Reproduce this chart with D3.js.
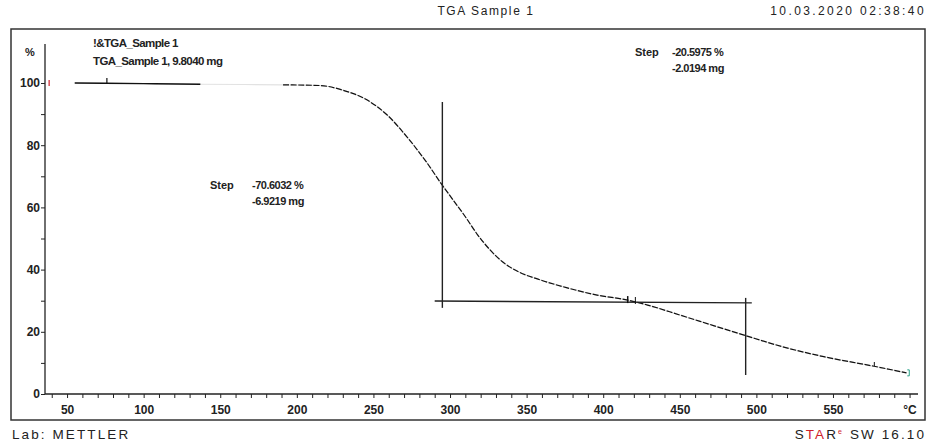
<!DOCTYPE html>
<html>
<head>
<meta charset="utf-8">
<script src="https://cdn.jsdelivr.net/npm/d3@7"></script>
<style>
  html, body { margin: 0; padding: 0; background: #fff; }
  svg { display: block; }
  text { font-family: "Liberation Sans", Arial, sans-serif; }
</style>
</head>
<body>
<svg id="chart" width="928" height="443"></svg>
<script>
// ---- data ----
const temperatureC = [55, 100, 137, 191, 215, 230, 246, 259, 272, 285, 294, 302, 310, 318, 326, 334, 345, 357, 376, 396, 416, 429, 450, 472, 494, 517, 544, 576, 598];
const massPercent  = [100, 99.8, 99.6, 99.4, 99.2, 97.7, 94.5, 89.7, 82.6, 74.3, 67.8, 62.4, 57.0, 51.2, 46.4, 42.6, 39.2, 37.0, 34.2, 31.8, 30.2, 28.6, 25.4, 22.0, 18.6, 15.2, 12.0, 9.0, 6.8];
const xTickLabels = [50, 100, 150, 200, 250, 300, 350, 400, 450, 500, 550];
const yTickLabels = [0, 20, 40, 60, 80, 100];
// step evaluation construction (temperature, percent)
const step1Vertical   = [[295, 93.9], [295, 27.7]];
const stepBaseline    = [[290, 29.9], [497, 29.3]];
const step2Vertical   = [[493, 30.9], [493, 6.1]];
const step1Text = ["Step", "-70.6032 %", "-6.9219 mg"];
const step2Text = ["Step", "-20.5975 %", "-2.0194 mg"];
const curveName = ["!&TGA_Sample 1", "TGA_Sample 1, 9.8040 mg"];
const faintRange = [137, 191]; // segment drawn very faintly in the reference

const svg = d3.select("#chart");
const x = d3.scaleLinear().domain([35.6, 605.5]).range([45, 918]);
const y = d3.scaleLinear().domain([0, 100]).range([394, 83]);

// frame
svg.append("rect").attr("x", 11).attr("y", 29).attr("width", 914).attr("height", 391)
  .attr("fill", "none").attr("stroke", "#333").attr("stroke-width", 1.5);

// header
svg.append("text").attr("x", 486).attr("y", 15).attr("text-anchor", "middle")
  .attr("font-size", 12).attr("letter-spacing", 1.6).attr("fill", "#222").text("TGA Sample 1");
svg.append("text").attr("x", 926).attr("y", 15).attr("text-anchor", "end")
  .attr("font-size", 12).attr("letter-spacing", 2.4).attr("fill", "#222").text("10.03.2020 02:38:40");

// footer
svg.append("text").attr("x", 12).attr("y", 439)
  .attr("font-size", 13.5).attr("letter-spacing", 2.1).attr("fill", "#222").text("Lab: METTLER");
const star = svg.append("text").attr("x", 926).attr("y", 439).attr("text-anchor", "end")
  .attr("font-size", 13.5).attr("letter-spacing", 2.1).attr("fill", "#222");
star.append("tspan").text("S");
star.append("tspan").attr("fill", "#d0202a").text("TA");
star.append("tspan").text("R");
star.append("tspan").attr("fill", "#d0202a").attr("font-size", 7).attr("dy", -5).text("e");
star.append("tspan").attr("dy", 5).text(" SW 16.10");

// axes
const xAxis = d3.axisBottom(x).tickValues(d3.range(40, 601, 10)).tickSize(4)
  .tickFormat(d => xTickLabels.includes(d) ? d : "");
const gx = svg.append("g").attr("transform", "translate(0,394)").call(xAxis);
gx.select(".domain").attr("d", "M45,0H918").attr("stroke", "#222").attr("stroke-width", 1.3);
gx.selectAll(".tick line").attr("stroke", "#222");
gx.selectAll(".tick text").attr("font-family", "Liberation Sans, Arial, sans-serif")
  .attr("font-size", 12).attr("font-weight", "bold").attr("fill", "#222").attr("dy", "1.05em");

const yAxis = d3.axisLeft(y).tickValues(d3.range(0, 101, 10)).tickSize(4)
  .tickFormat(d => yTickLabels.includes(d) ? d : "");
const gy = svg.append("g").attr("transform", "translate(45,0)").call(yAxis);
gy.select(".domain").attr("d", "M0,44V394").attr("stroke", "#222").attr("stroke-width", 1.3);
gy.selectAll(".tick line").attr("stroke", "#222");
gy.selectAll(".tick text").attr("font-family", "Liberation Sans, Arial, sans-serif")
  .attr("font-size", 12).attr("font-weight", "bold").attr("fill", "#222").attr("x", -5);

svg.append("text").attr("x", 30).attr("y", 56).attr("text-anchor", "middle")
  .attr("font-size", 11).attr("font-weight", "bold").attr("fill", "#222").text("%");
svg.append("text").attr("x", 910).attr("y", 414).attr("text-anchor", "middle")
  .attr("font-size", 12).attr("font-weight", "bold").attr("fill", "#222").text("°C");

// curve
const pts = temperatureC.map((t, i) => ({t, m: massPercent[i]}));
const line = d3.line().x(d => x(d.t)).y(d => y(d.m)).curve(d3.curveMonotoneX);
svg.append("path").datum(pts).attr("d", line).attr("fill", "none")
  .attr("stroke", "#e2e2e2").attr("stroke-width", 1.2);
const early = pts.filter(d => d.t <= faintRange[0]);
const late = pts.filter(d => d.t >= faintRange[1]);
svg.append("path").attr("d", line(early)).attr("fill", "none")
  .attr("stroke", "#111").attr("stroke-width", 1.3);
svg.append("path").attr("d", line(late)).attr("fill", "none")
  .attr("stroke", "#111").attr("stroke-width", 1.2).attr("stroke-dasharray", "6,1.6");

// step lines
const sl = d3.line().x(d => x(d[0])).y(d => y(d[1]));
[step1Vertical, stepBaseline, step2Vertical].forEach(seg => {
  svg.append("path").attr("d", sl(seg)).attr("fill", "none")
    .attr("stroke", "#222").attr("stroke-width", 1.4);
});

// small markers
svg.append("line").attr("x1", x(38.3)).attr("x2", x(38.3)).attr("y1", y(100) - 3).attr("y2", y(100) + 3)
  .attr("stroke", "#d0202a").attr("stroke-width", 1.2);
svg.append("line").attr("x1", x(76)).attr("x2", x(76)).attr("y1", y(100) - 5).attr("y2", y(100))
  .attr("stroke", "#111").attr("stroke-width", 1.2);
svg.append("line").attr("x1", x(416)).attr("x2", x(416)).attr("y1", y(30.2) - 4).attr("y2", y(30.2) + 3)
  .attr("stroke", "#111").attr("stroke-width", 1.5);
svg.append("line").attr("x1", x(421)).attr("x2", x(421)).attr("y1", y(29.9) - 4).attr("y2", y(29.9) + 3)
  .attr("stroke", "#111").attr("stroke-width", 1);
svg.append("line").attr("x1", x(577)).attr("x2", x(577)).attr("y1", y(9.0) - 4).attr("y2", y(9.0))
  .attr("stroke", "#111").attr("stroke-width", 1);
svg.append("path").attr("d", `M${x(598.5)},${y(6.8) - 3}h2v6h-2`).attr("fill", "none")
  .attr("stroke", "#2aa38a").attr("stroke-width", 1);

// annotations
function stepLabel(lines, sx, vx, yy) {
  svg.append("text").attr("x", sx).attr("y", yy).attr("font-size", 11).attr("font-weight", "bold")
    .attr("fill", "#222").text(lines[0]);
  svg.append("text").attr("x", vx).attr("y", yy).attr("font-size", 11).attr("font-weight", "bold")
    .attr("letter-spacing", -0.5).attr("fill", "#222").text(lines[1]);
  svg.append("text").attr("x", vx).attr("y", yy + 16).attr("font-size", 11).attr("font-weight", "bold")
    .attr("letter-spacing", -0.5).attr("fill", "#222").text(lines[2]);
}
stepLabel(step1Text, 210, 252, 189);
stepLabel(step2Text, 635, 672, 56);

svg.append("text").attr("x", 93).attr("y", 47).attr("font-size", 11.5).attr("font-weight", "bold")
  .attr("letter-spacing", -0.6).attr("fill", "#222").text(curveName[0]);
svg.append("text").attr("x", 93).attr("y", 65).attr("font-size", 11.5).attr("font-weight", "bold")
  .attr("letter-spacing", -0.6).attr("fill", "#222").text(curveName[1]);
</script>
</body>
</html>
